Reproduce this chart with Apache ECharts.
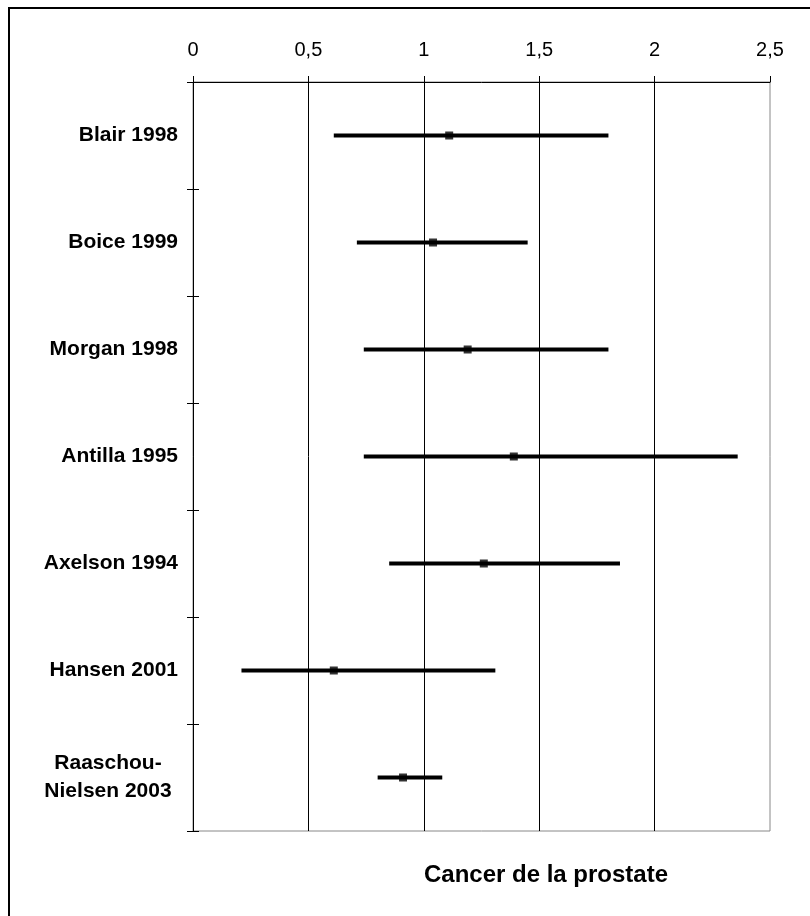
<!DOCTYPE html>
<html>
<head>
<meta charset="utf-8">
<script src="https://cdn.jsdelivr.net/npm/echarts@6/dist/echarts.min.js"></script>
<style>
  html, body { margin: 0; padding: 0; background: #fff; }
  #chart { width: 810px; height: 916px; }
</style>
</head>
<body>
<div id="chart"></div>
<script>
// données
const studies = ['Blair 1998', 'Boice 1999', 'Morgan 1998', 'Antilla 1995', 'Axelson 1994', 'Hansen 2001', 'Raaschou-\nNielsen 2003'];
const rr = [1.11, 1.04, 1.19, 1.39, 1.26, 0.61, 0.91];
const lower = [0.61, 0.71, 0.74, 0.74, 0.85, 0.21, 0.80];
const upper = [1.80, 1.45, 1.80, 2.36, 1.85, 1.31, 1.08];
const xTitle = 'Cancer de la prostate';

const font = 'Liberation Sans, Arial, sans-serif';
const chart = echarts.init(document.getElementById('chart'));

// intervalles de confiance : [index, bas, haut]
const ciData = studies.map((s, i) => [i, lower[i], upper[i]]);

chart.setOption({
    animation: false,
    backgroundColor: '#fff',
    title: {
        text: xTitle,
        left: 541,
        top: 858,
        textAlign: 'center',
        textStyle: { fontFamily: font, fontSize: 24, fontWeight: 'bold', color: '#000' }
    },
    graphic: [{
        type: 'rect',
        shape: { x: 9, y: 8, width: 820, height: 930 },
        style: { fill: 'none', stroke: '#000', lineWidth: 2 },
        silent: true
    }],
    grid: {
        left: 193, right: 40, top: 82, bottom: 85,
        show: true, borderColor: '#888', borderWidth: 1
    },
    xAxis: {
        type: 'value',
        position: 'top',
        min: 0, max: 2.5, interval: 0.5,
        axisLine: { show: true, lineStyle: { color: '#000', width: 1 } },
        axisTick: { show: true, length: 6, lineStyle: { color: '#000' } },
        axisLabel: {
            margin: 22,
            fontFamily: font, fontSize: 20, color: '#000',
            formatter: v => String(v).replace('.', ',')
        },
        splitLine: { show: true, showMaxLine: false, lineStyle: { color: '#000', width: 1 } }
    },
    yAxis: [{
        type: 'category',
        data: studies,
        inverse: true,
        axisLine: { show: true, lineStyle: { color: '#000', width: 1 } },
        axisTick: { show: true, length: 6, lineStyle: { color: '#000' } },
        axisLabel: {
            margin: 15,
            fontFamily: font, fontSize: 21, fontWeight: 'bold', color: '#000',
            formatter: v => v.indexOf('\n') >= 0 ? v.split('\n').map(l => '{c|' + l + '}').join('\n') : v,
            rich: { c: { width: 140, align: 'center', fontFamily: font, fontSize: 21, fontWeight: 'bold', lineHeight: 28, color: '#000' } }
        },
        splitLine: { show: false }
    }, {
        // petites marques vers l'intérieur pour les faire traverser l'axe
        type: 'category',
        data: studies,
        inverse: true,
        position: 'left',
        axisLine: { show: false },
        axisTick: { show: true, inside: true, length: 6, lineStyle: { color: '#000' } },
        axisLabel: { show: false },
        splitLine: { show: false }
    }],
    series: [
        {
            type: 'custom',
            name: 'IC 95%',
            data: ciData,
            renderItem: (params, api) => {
                const y = api.value(0);
                const a = api.coord([api.value(1), y]);
                const b = api.coord([api.value(2), y]);
                return {
                    type: 'line',
                    shape: { x1: a[0], y1: a[1], x2: b[0], y2: b[1] },
                    style: { stroke: '#000', lineWidth: 4 }
                };
            },
            encode: { x: [1, 2], y: 0 },
            z: 3
        },
        {
            type: 'scatter',
            name: 'RR',
            data: rr.map((v, i) => [v, i]),
            symbol: 'rect',
            symbolSize: 8,
            itemStyle: { color: '#000' },
            z: 4
        }
    ]
});
</script>
</body>
</html>
